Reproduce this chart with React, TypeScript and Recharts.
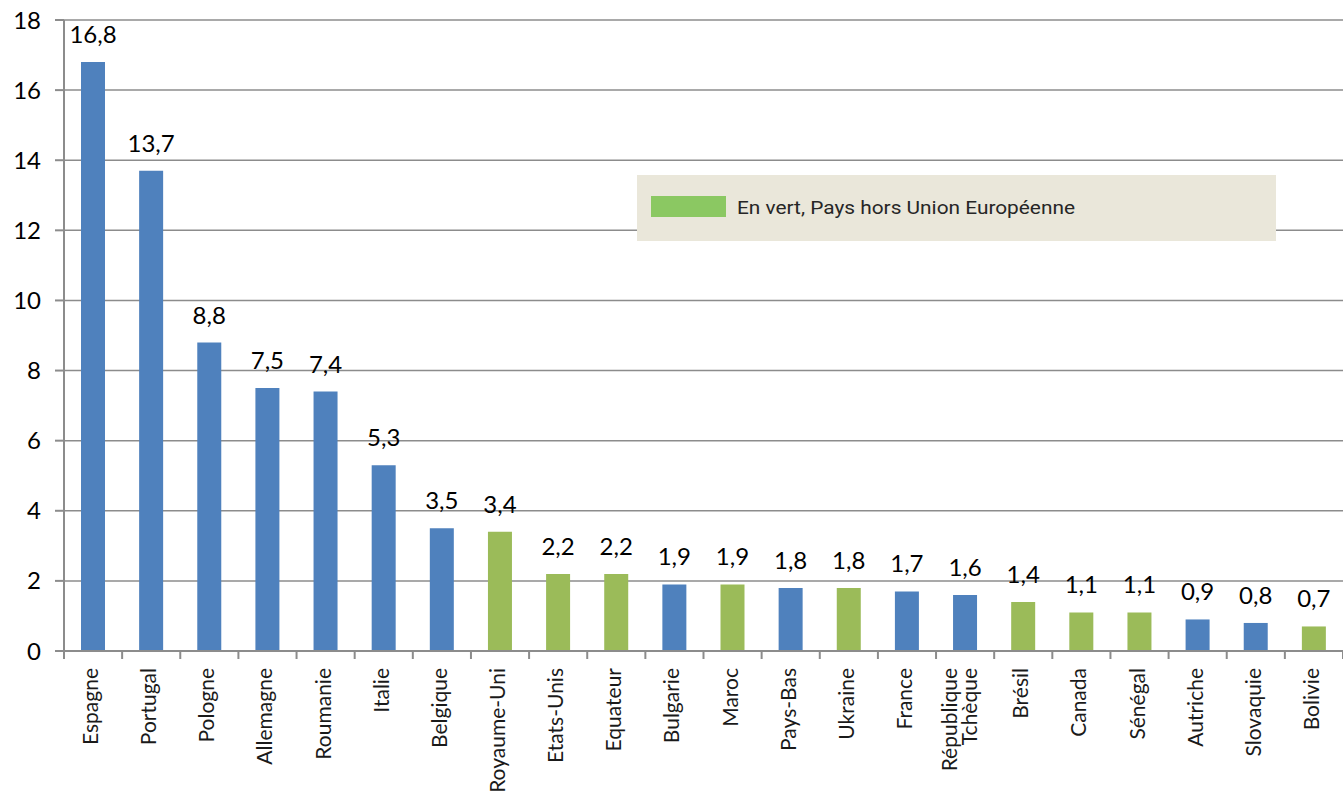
import React from 'react';
import { BarChart, Bar, XAxis, YAxis, CartesianGrid, Cell, LabelList } from 'recharts';

const countries = [
    'Espagne', 'Portugal', 'Pologne', 'Allemagne', 'Roumanie', 'Italie', 'Belgique',
    'Royaume-Uni', 'Etats-Unis', 'Equateur', 'Bulgarie', 'Maroc', 'Pays-Bas', 'Ukraine',
    'France', 'République Tchèque', 'Brésil', 'Canada', 'Sénégal', 'Autriche', 'Slovaquie', 'Bolivie',
];
const values = [16.8, 13.7, 8.8, 7.5, 7.4, 5.3, 3.5, 3.4, 2.2, 2.2, 1.9, 1.9, 1.8, 1.8, 1.7, 1.6, 1.4, 1.1, 1.1, 0.9, 0.8, 0.7];
// true = pays hors Union Européenne (en vert)
const outsideEU = [false, false, false, false, false, false, false, true, true, true, false, true, false, true, false, false, true, true, true, false, false, true];
const yTicks = [0, 2, 4, 6, 8, 10, 12, 14, 16, 18];

const legendText = 'En vert, Pays hors Union Européenne';

const BLUE = '#4F81BD';
const GREEN = '#9BBB59';
const AXIS = '#8C8C8C';
const FONT = 'Lato, "Open Sans", sans-serif';

const data = countries.map((c, i) => ({ country: c, value: values[i], nonEU: outsideEU[i] }));

const CountryTick = (props: any) => {
    const { x, y, payload, index } = props;
    const half = payload.offset || (1343 - 64) / countries.length / 2;
    const lines = String(payload.value).split(' ');
    const base = lines.length === 1 ? 5 : 2;
    const ty = y + 17;
    return (
        <g>
            <line x1={x - half} y1={y} x2={x - half} y2={y + 8} stroke={AXIS} strokeWidth={2} />
            {index === countries.length - 1 && (
                <line x1={x + half} y1={y} x2={x + half} y2={y + 8} stroke={AXIS} strokeWidth={2} />
            )}
            {lines.map((l, i) => {
                const tx = x + base + (i - (lines.length - 1) / 2) * 20;
                return (
                    <text key={i} x={tx} y={ty} transform={`rotate(-90, ${tx}, ${ty})`} textAnchor="end"
                        fontSize={21} fontFamily={FONT} fill="#1a1a1a">
                        {l}
                    </text>
                );
            })}
        </g>
    );
};

export default function App() {
    return (
        <div style={{ position: 'absolute', left: 0, top: 0, width: 1343, height: 792, background: '#fff' }}>
            <BarChart width={1343} height={792} data={data} margin={{ top: 20, right: 0, bottom: 0, left: 0 }} barSize={24}>
                <CartesianGrid vertical={false} stroke={AXIS} strokeWidth={1.5} />
                <XAxis dataKey="country" interval={0} height={141} tickSize={0} tickMargin={0}
                    tick={<CountryTick />} axisLine={{ stroke: AXIS, strokeWidth: 2 }} />
                <YAxis width={64} domain={[0, 18]} ticks={yTicks} interval={0} tickSize={9} tickMargin={14}
                    axisLine={{ stroke: AXIS, strokeWidth: 2 }} tickLine={{ stroke: AXIS, strokeWidth: 2 }}
                    tick={{ fontSize: 24, fontFamily: FONT, fill: '#000' }} />
                <Bar dataKey="value" isAnimationActive={false}>
                    {data.map((d, i) => (
                        <Cell key={i} fill={d.nonEU ? GREEN : BLUE} />
                    ))}
                    <LabelList dataKey="value" position="top" offset={19}
                        formatter={(v: any) => String(v).replace('.', ',')}
                        style={{ fontSize: 24, fontFamily: FONT, fill: '#000' }} />
                </Bar>
            </BarChart>
            <svg width={1343} height={792} style={{ position: 'absolute', left: 0, top: 0, pointerEvents: 'none' }}>
                <rect x={637} y={175} width={639} height={66} fill="#EAE7DA" />
                <rect x={651} y={196} width={75} height={21} fill="#8BC862" />
                <text x={737} y={214} fontSize={19} fontFamily='Roboto, sans-serif' fill="#262626"
                    textLength={338} lengthAdjust="spacingAndGlyphs">
                    {legendText}
                </text>
            </svg>
        </div>
    );
}
